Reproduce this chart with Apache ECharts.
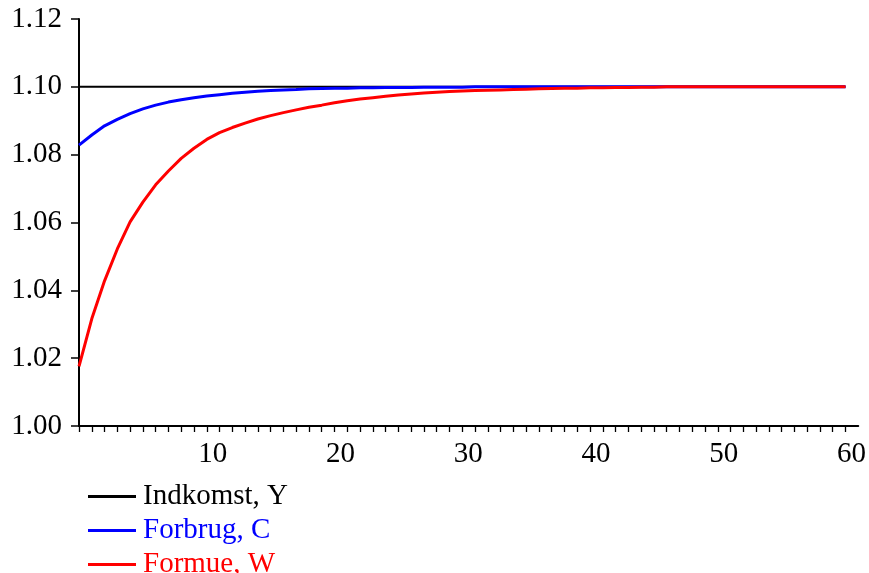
<!DOCTYPE html>
<html>
<head>
<meta charset="utf-8">
<script src="https://cdn.jsdelivr.net/npm/echarts@6/dist/echarts.min.js"></script>
<style>
html,body{margin:0;padding:0;background:#fff;}
#chart{width:869px;height:573px;}
</style>
</head>
<body>
<div id="chart"></div>
<script>
var periods = [];
for (var i = 0; i <= 60; i++) periods.push(i);

var seriesNames = ['Indkomst, Y', 'Forbrug, C', 'Formue, W'];
var seriesColors = ['#000000', '#0000ff', '#ff0000'];

var incomeY = [
1.1,1.1,1.1,1.1,1.1,1.1,1.1,1.1,1.1,1.1,
1.1,1.1,1.1,1.1,1.1,1.1,1.1,1.1,1.1,1.1,
1.1,1.1,1.1,1.1,1.1,1.1,1.1,1.1,1.1,1.1,
1.1,1.1,1.1,1.1,1.1,1.1,1.1,1.1,1.1,1.1,
1.1,1.1,1.1,1.1,1.1,1.1,1.1,1.1,1.1,1.1,
1.1,1.1,1.1,1.1,1.1,1.1,1.1,1.1,1.1,1.1,
1.1
];

var consumptionC = [
1.0828,1.0858,1.0885,1.0904,1.0921,1.0935,1.0946,1.0955,1.0962,1.0968,
1.0973,1.0977,1.0981,1.0984,1.0987,1.0989,1.0991,1.0992,1.0994,1.0995,
1.0996,1.0996,1.0997,1.0997,1.0998,1.0998,1.0998,1.0999,1.0999,1.0999,
1.0999,1.1,1.1,1.1,1.1,1.1,1.1,1.1,1.1,1.1,
1.1,1.1,1.1,1.1,1.1,1.1,1.1,1.1,1.1,1.1,
1.1,1.1,1.1,1.1,1.1,1.1,1.1,1.1,1.1,1.1,
1.1
];

var wealthW = [
1.0176,1.0316,1.0428,1.0522,1.0602,1.0660,1.0711,1.0752,1.0789,1.0819,
1.0845,1.0865,1.0880,1.0893,1.0905,1.0915,1.0924,1.0932,1.0940,1.0946,
1.0953,1.0959,1.0964,1.0968,1.0972,1.0976,1.0979,1.0982,1.0984,1.0986,
1.0988,1.0989,1.0990,1.0991,1.0992,1.0993,1.0994,1.0995,1.0996,1.0996,
1.0997,1.0997,1.0998,1.0998,1.0999,1.0999,1.1,1.1,1.1,1.1,
1.1,1.1,1.1,1.1,1.1,1.1,1.1,1.1,1.1,1.1,
1.1
];

var xTickValues = periods.slice();
var xLabelValues = [10, 20, 30, 40, 50, 60];

function pairs(arr) {
  return periods.map(function (t, i) { return [t, arr[i]]; });
}

var allData = [incomeY, consumptionC, wealthW];
var lineWidths = [2, 3, 3];
var font = 'Liberation Serif';

var chart = echarts.init(document.getElementById('chart'), null, {renderer: 'canvas'});
chart.setOption({
  animation: false,
  backgroundColor: '#ffffff',
  grid: {left: 79, right: 9, top: 19, bottom: 147, containLabel: false},
  legend: {
    orient: 'vertical',
    left: 83,
    top: 477,
    height: 120,
    itemWidth: 48,
    itemHeight: 3,
    itemGap: 5,
    icon: 'rect',
    textStyle: {fontFamily: font, fontSize: 29, padding: [0, 0, 0, 2]},
    data: seriesNames.map(function (n, i) {
      return {name: n, textStyle: {color: seriesColors[i]}};
    })
  },
  xAxis: {
    type: 'value',
    min: 0,
    max: 61,
    interval: 1,
    axisLine: {show: true, onZero: false, lineStyle: {color: '#000', width: 2}},
    axisTick: {show: true, length: 6, lineStyle: {color: '#000', width: 1.3}, customValues: xTickValues},
    axisLabel: {fontFamily: font, fontSize: 29, color: '#000', margin: 14,
      padding: [0, 0, 0, 12], customValues: xLabelValues},
    splitLine: {show: false}
  },
  yAxis: {
    type: 'value',
    min: 1.00,
    max: 1.12,
    interval: 0.02,
    axisLine: {show: true, lineStyle: {color: '#000', width: 2}},
    axisTick: {show: true, length: 8, lineStyle: {color: '#000', width: 1.5}},
    axisLabel: {fontFamily: font, fontSize: 29, color: '#000', margin: 17,
      formatter: function (v) { return v.toFixed(2); }},
    splitLine: {show: false}
  },
  series: allData.map(function (arr, i) {
    return {
      name: seriesNames[i],
      type: 'line',
      data: pairs(arr),
      showSymbol: false,
      symbol: 'none',
      smooth: false,
      lineStyle: {color: seriesColors[i], width: lineWidths[i]},
      itemStyle: {color: seriesColors[i]},
      z: 2 + i
    };
  })
});
</script>
</body>
</html>
